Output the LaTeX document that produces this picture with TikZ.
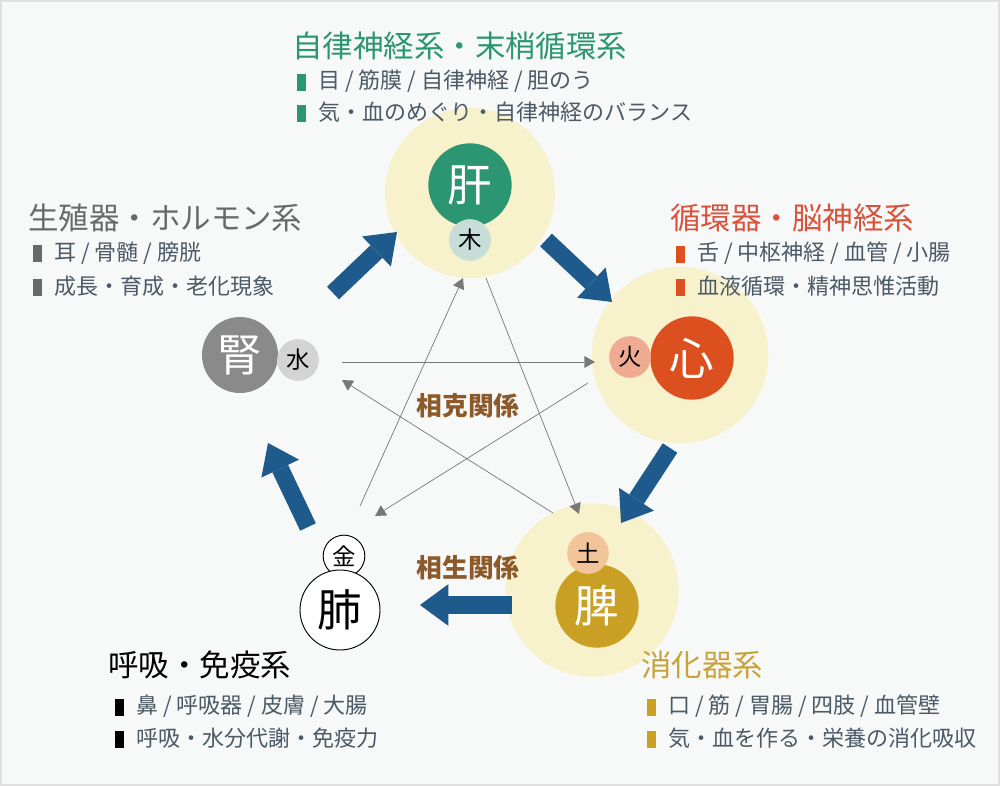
\documentclass[tikz,border=0pt]{standalone}
\usepackage{fontspec}
\setmainfont{Noto Sans CJK JP}
\usetikzlibrary{arrows.meta}
\usetikzlibrary{positioning}
\definecolor{bgwhite}{RGB}{247,248,248}
\definecolor{cream}{RGB}{247,242,204}
\definecolor{kangreen}{RGB}{44,150,114}
\definecolor{mokucol}{RGB}{198,221,216}
\definecolor{shincol}{RGB}{220,80,32}
\definecolor{shintitle}{RGB}{217,83,60}
\definecolor{kacol}{RGB}{240,170,146}
\definecolor{hicol}{RGB}{201,160,36}
\definecolor{hititle}{RGB}{200,162,58}
\definecolor{docol}{RGB}{241,196,154}
\definecolor{jincol}{RGB}{138,138,138}
\definecolor{jintitle}{RGB}{105,105,105}
\definecolor{suicol}{RGB}{212,212,212}
\definecolor{arrowblue}{RGB}{30,90,140}
\definecolor{kegray}{RGB}{120,120,120}
\definecolor{kebrown}{RGB}{140,90,42}
\definecolor{itemgray}{RGB}{76,90,102}
\newcommand{\itembar}[1]{\textcolor{#1}{\rule[-0.1em]{2.7mm}{5.1mm}}\hspace{3.6mm}}
\tikzset{organ/.style={circle,inner sep=0pt,minimum size=2.5cm,font=\fontsize{38}{40}\selectfont,text=white},
         elem/.style={circle,inner sep=0pt,minimum size=1.25cm,font=\fontsize{20}{22}\selectfont},
         blob/.style={circle,fill=cream,minimum size=5.1cm},
         sheng/.style={draw=arrowblue,line width=0.52cm,-{Triangle[width=1.25cm,length=0.85cm,line width=0pt]}},
         ke/.style={draw=kegray,line width=0.6pt,-{Triangle[width=0.36cm,length=0.32cm,line width=0pt]}},
         title/.style={anchor=west,inner sep=0pt,font=\fontsize{26}{28}\selectfont},
         item/.style={anchor=west,inner sep=0pt,text=itemgray,font=\fontsize{18.8}{20}\selectfont},
         rel/.style={text=kebrown,font=\bfseries\fontsize{22}{24}\selectfont},
         }
\begin{document}
\begin{tikzpicture}[x=0.03cm,y=-0.03cm]
\useasboundingbox (0,0) rectangle (1000,786);
\fill[bgwhite] (0,0) rectangle (1000,786);
\draw[black!12,line width=1pt] (1,1) rectangle (999,785);

% backgrounds of the three organs
\node[blob] (kanbg) at (470,193) {};
\node[blob,minimum size=5.3cm] (shinbg) at (680,355) {};
\node[blob,minimum size=5.2cm] (hibg) at (592,590) {};

% organs and elements
\node[organ,fill=kangreen] (kan) at (470,185) {肝};
\node[elem,fill=mokucol] (moku) at (470,240) {木};
\node[organ,fill=shincol] (shin) at (692,358) {心};
\node[elem,fill=kacol] (ka) at (630,357) {火};
\node[organ,fill=hicol] (hi) at (597,606) {脾};
\node[elem,fill=docol] (do) at (588,553) {土};
\node[organ,fill=jincol,minimum size=2.28cm] (jin) at (240,355) {腎};
\node[elem,fill=suicol] (sui) at (298,360) {水};
\node[elem,fill=white,draw=black,line width=0.8pt] (kin) at (344,556) {金};
\node[organ,fill=white,draw=black,line width=0.8pt,text=black,minimum size=2.4cm] (hai) at (340,610) {肺};

% sosei (blue)
\coordinate (s1a) at (333,293); \coordinate (s1b) at (397,232);
\coordinate (s2a) at (546,240); \coordinate (s2b) at (612,302);
\coordinate (s3a) at (670,448); \coordinate (s3b) at (621,523);
\coordinate (s4a) at (512,605); \coordinate (s4b) at (420,605);
\coordinate (s5a) at (308,527); \coordinate (s5b) at (268,443);
\draw[sheng] (s1a) -- (s1b);
\draw[sheng] (s2a) -- (s2b);
\draw[sheng] (s3a) -- (s3b);
\draw[sheng] (s4a) -- (s4b);
\draw[sheng] (s5a) -- (s5b);

% sokoku (gray)
\coordinate (k1a) at (342,362); \coordinate (k1b) at (595,362);
\coordinate (k2a) at (588,383); \coordinate (k2b) at (375,516);
\coordinate (k3a) at (360,506); \coordinate (k3b) at (463,278);
\coordinate (k4a) at (486,278); \coordinate (k4b) at (579,514);
\coordinate (k5a) at (553,513); \coordinate (k5b) at (342,380);
\draw[ke] (k1a) -- (k1b);
\draw[ke] (k2a) -- (k2b);
\draw[ke] (k3a) -- (k3b);
\draw[ke] (k4a) -- (k4b);
\draw[ke] (k5a) -- (k5b);

\node[rel] (kelabel) at (468,406) {相克関係};
\node[rel] (shenglabel) at (468,568) {相生関係};

% texts
\node[title,text=kangreen] (kantitle) at (292,46) {自律神経系・末梢循環系};
\node[item] (kan1) at (297,81) {\itembar{kangreen}目 / 筋膜 / 自律神経 / 胆のう};
\node[item] (kan2) at (297,112) {\itembar{kangreen}気・血のめぐり・自律神経のバランス};

\node[title,text=shintitle] (shintitle) at (670,218) {循環器・脳神経系};
\node[item] (shin1) at (676,253) {\itembar{shincol}舌 / 中枢神経 / 血管 / 小腸};
\node[item] (shin2) at (676,286) {\itembar{shincol}血液循環・精神思惟活動};

\node[title,text=jintitle] (jintitle) at (28,218) {生殖器・ホルモン系};
\node[item] (jin1) at (33,253) {\itembar{jintitle}耳 / 骨髄 / 膀胱};
\node[item] (jin2) at (33,286) {\itembar{jintitle}成長・育成・老化現象};

\node[title,text=black] (haititle) at (108,665) {呼吸・免疫系};
\node[item] (hai1) at (115,706) {\itembar{black}鼻 / 呼吸器 / 皮膚 / 大腸};
\node[item] (hai2) at (115,738) {\itembar{black}呼吸・水分代謝・免疫力};

\node[title,text=hititle] (hititle) at (641,665) {消化器系};
\node[item] (hi1) at (647,706) {\itembar{hicol}口 / 筋 / 胃腸 / 四肢 / 血管壁};
\node[item] (hi2) at (647,738) {\itembar{hicol}気・血を作る・栄養の消化吸収};
\end{tikzpicture}
\end{document}
